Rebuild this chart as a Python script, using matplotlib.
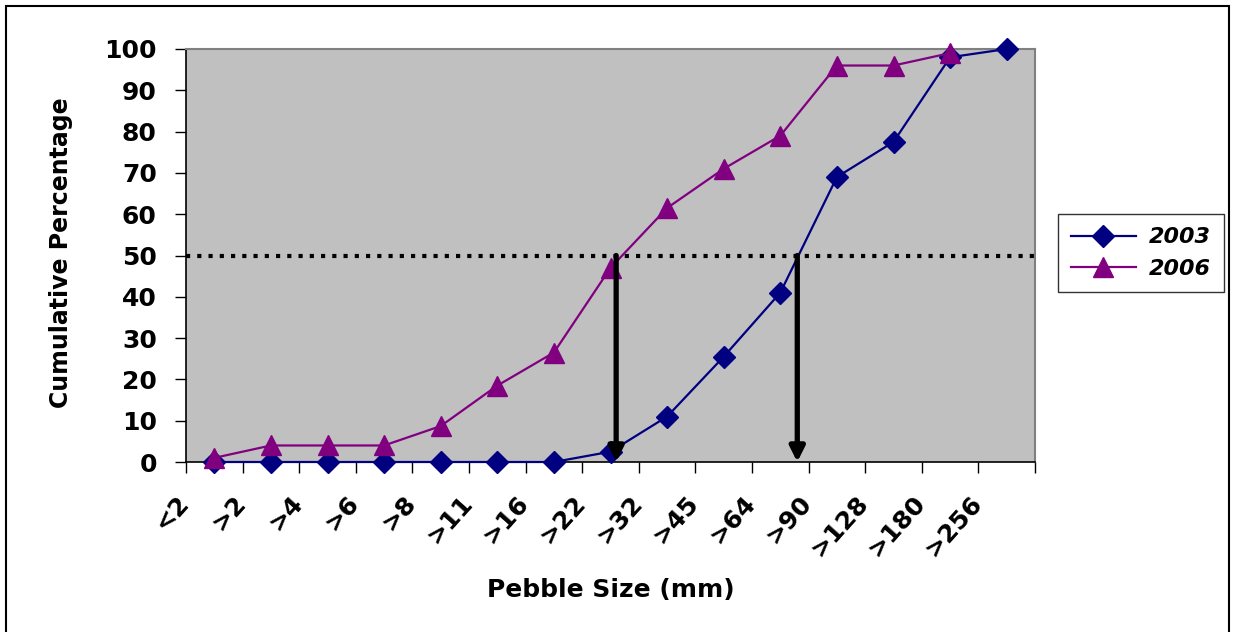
import numpy as np
import matplotlib
matplotlib.use('Agg')
import matplotlib.pyplot as plt
from matplotlib.lines import Line2D
from matplotlib.patches import Rectangle
from matplotlib.transforms import ScaledTranslation

# pebble count, cumulative percentage per size class
size_labels = ['<2', '>2', '>4', '>6', '>8', '>11', '>16', '>22', '>32',
               '>45', '>64', '>90', '>128', '>180', '>256']
cum_2003 = [0, 0, 0, 0, 0, 0, 0, 2.5, 11, 25.5, 41, 69, 77.5, 98, 100]
cum_2006 = [1, 4, 4, 4, 8.7, 18.5, 26.5, 47, 61.5, 71, 79, 96, 96, 99]

# D50 positions (category index) where each curve crosses 50 %
d50_level = 50
d50_index = [10.3, 7.1]

plt.rcParams['font.family'] = ['DejaVu Sans']
plt.rcParams['font.weight'] = 'bold'

fig = plt.figure(figsize=(12.33, 6.32), dpi=100)
ax = fig.add_axes([186 / 1233, 1 - 462 / 632, 849 / 1233, 413 / 632])
ax.set_facecolor('#C0C0C0')

x03 = np.arange(len(cum_2003))
x06 = np.arange(len(cum_2006))
ax.plot(x03, cum_2003, color='#000080', lw=1.6, marker='D', ms=11,
        mfc='#000080', mec='#000080', label='2003', zorder=4, clip_on=False)
ax.plot(x06, cum_2006, color='#800080', lw=1.6, marker='^', ms=15,
        mfc='#800080', mec='#800080', label='2006', zorder=4, clip_on=False)

ax.axhline(d50_level, color='black', lw=3, linestyle=(0, (1, 1.7)), zorder=3)
for xi in d50_index:
    ax.annotate('', xy=(xi, 0), xytext=(xi, d50_level),
                arrowprops=dict(arrowstyle='-|>', lw=3.8, color='black',
                                mutation_scale=22, shrinkA=0, shrinkB=0),
                zorder=5)

ax.set_xlim(-0.5, len(size_labels) - 0.5)
ax.set_ylim(0, 100)
ax.set_yticks(np.arange(0, 101, 10))
ax.tick_params(axis='y', length=8, width=1, pad=13, labelsize=18)

# labels at category centres, tick marks on category boundaries
ax.set_xticks(np.arange(len(size_labels)))
ax.set_xticklabels(size_labels, rotation=48, ha='right', va='top',
                   rotation_mode='anchor', fontsize=18)
ax.set_xticks(np.arange(-0.5, len(size_labels)), minor=True)
ax.tick_params(axis='x', which='major', length=0, pad=21)
ax.tick_params(axis='x', which='minor', length=8, width=1)
shift = ScaledTranslation(-0.38, 0, fig.dpi_scale_trans)
for lbl in ax.get_xticklabels():
    lbl.set_transform(lbl.get_transform() + shift)

for side in ['top', 'right']:
    ax.spines[side].set_color('#808080')
    ax.spines[side].set_linewidth(1.5)
for side in ['left', 'bottom']:
    ax.spines[side].set_color('black')
    ax.spines[side].set_linewidth(1.2)

ax.set_ylabel('Cumulative Percentage', fontsize=17, fontweight='bold')
ax.yaxis.set_label_coords(-0.133, 0.508)
ax.set_xlabel('Pebble Size (mm)', fontsize=18, fontweight='bold')
ax.xaxis.set_label_coords(0.5, -0.28)

handles = [Line2D([], [], color='#000080', lw=1.6, marker='D', ms=11),
           Line2D([], [], color='#800080', lw=1.6, marker='^', ms=15)]
leg = fig.legend(handles, ['2003', '2006'], loc='center',
                 bbox_to_anchor=(1141 / 1233, 1 - 253 / 632),
                 prop=dict(family='DejaVu Sans', weight='bold', style='italic', size=16),
                 frameon=True, fancybox=False, edgecolor='black',
                 handlelength=2.9, handletextpad=0.6, borderpad=0.6,
                 labelspacing=0.5)
leg.get_frame().set_linewidth(1)

# outer chart border
fig.patches.append(Rectangle((6 / 1233, -0.02), 1223 / 1233, 1 - 6 / 632 + 0.02,
                             transform=fig.transFigure, fill=False,
                             edgecolor='black', lw=1.5))

fig.savefig('out.png', dpi=100)
